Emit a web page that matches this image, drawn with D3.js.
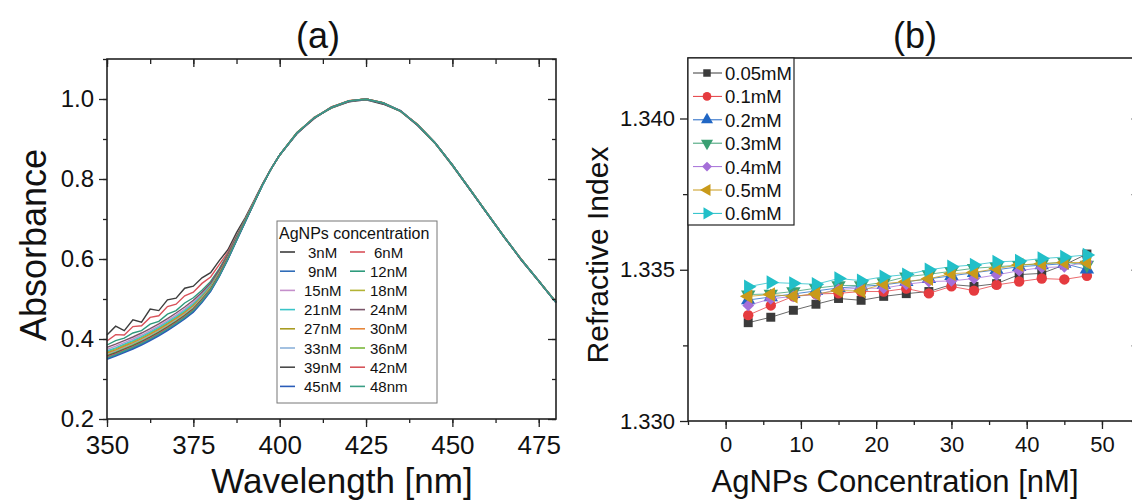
<!DOCTYPE html>
<html>
<head>
<meta charset="utf-8">
<script src="https://cdn.jsdelivr.net/npm/d3@7"></script>
<style>
body { margin: 0; background: #fff; }
text { font-family: "Liberation Sans", Arial, sans-serif; fill: #111; }
</style>
</head>
<body>
<script>
// ---- panel (a): normalised absorbance spectra, one array per AgNPs concentration
var wavelengths = [350,352.5,355,357.5,360,362.5,365,367.5,370,372.5,375,377.5,380,382.5,385,387.5,390,392.5,395,397.5,400,
    405,410,415,420,425,430,435,440,445,450,455,460,465,470,475,480];

var concLabels = ["3nM","6nM","9nM","12nM","15nM","18nM","21nM","24nM","27nM","30nM","33nM","36nM","39nM","42nM","45nM","48nm"];

var abs3  = [0.410,0.432,0.421,0.448,0.442,0.475,0.471,0.498,0.502,0.527,0.532,0.553,0.566,0.596,0.623,0.666,0.703,0.745,0.787,0.826,0.860,
    0.913,0.954,0.977,0.993,0.998,0.987,0.969,0.933,0.889,0.833,0.774,0.714,0.655,0.597,0.545,0.493];
var abs6  = [0.395,0.411,0.410,0.431,0.433,0.454,0.458,0.481,0.487,0.508,0.517,0.539,0.555,0.586,0.617,0.658,0.700,0.743,0.786,0.826,0.860,
    0.916,0.952,0.980,0.996,1.000,0.991,0.969,0.936,0.889,0.836,0.775,0.716,0.654,0.599,0.544,0.492];
var abs9  = [0.351,0.359,0.368,0.377,0.387,0.398,0.410,0.423,0.437,0.452,0.469,0.493,0.520,0.557,0.599,0.646,0.692,0.739,0.784,0.825,0.860,
    0.914,0.953,0.978,0.995,0.999,0.990,0.971,0.935,0.891,0.835,0.776,0.715,0.656,0.598,0.546,0.491];
var abs12 = [0.385,0.396,0.402,0.415,0.421,0.437,0.444,0.462,0.471,0.490,0.503,0.522,0.544,0.576,0.613,0.656,0.699,0.742,0.786,0.825,0.860,
    0.915,0.953,0.979,0.995,1.000,0.990,0.970,0.935,0.890,0.835,0.775,0.715,0.655,0.598,0.545,0.492];
var abs15 = [0.374,0.382,0.391,0.400,0.410,0.421,0.433,0.446,0.460,0.475,0.492,0.513,0.536,0.570,0.609,0.653,0.697,0.741,0.785,0.825,0.860,
    0.915,0.952,0.979,0.994,1.000,0.989,0.970,0.934,0.890,0.834,0.775,0.714,0.655,0.597,0.545,0.491];
var abs18 = [0.368,0.376,0.385,0.394,0.404,0.415,0.427,0.440,0.454,0.469,0.486,0.508,0.532,0.567,0.606,0.651,0.695,0.740,0.785,0.825,0.860,
    0.916,0.953,0.980,0.995,0.999,0.990,0.970,0.935,0.891,0.835,0.776,0.715,0.656,0.598,0.546,0.492];
var abs21 = [0.370,0.378,0.387,0.396,0.406,0.417,0.429,0.442,0.456,0.471,0.488,0.509,0.534,0.568,0.607,0.651,0.696,0.740,0.785,0.825,0.860,
    0.915,0.953,0.979,0.995,1.000,0.990,0.970,0.935,0.890,0.835,0.775,0.715,0.655,0.598,0.545,0.492];
var abs24 = [0.379,0.387,0.396,0.405,0.415,0.426,0.438,0.451,0.465,0.480,0.497,0.517,0.540,0.573,0.611,0.654,0.697,0.741,0.786,0.825,0.860,
    0.914,0.951,0.980,0.993,1.001,0.988,0.971,0.934,0.891,0.834,0.776,0.714,0.656,0.597,0.546,0.491];
var abs27 = [0.365,0.373,0.382,0.391,0.401,0.412,0.424,0.437,0.451,0.466,0.483,0.505,0.530,0.565,0.605,0.650,0.695,0.740,0.785,0.825,0.860,
    0.915,0.953,0.979,0.995,1.000,0.990,0.970,0.935,0.890,0.835,0.775,0.715,0.655,0.598,0.545,0.492];
var abs30 = [0.363,0.371,0.380,0.389,0.399,0.410,0.422,0.435,0.449,0.464,0.481,0.503,0.529,0.564,0.604,0.649,0.695,0.740,0.785,0.825,0.860,
    0.915,0.954,0.979,0.996,1.000,0.991,0.970,0.936,0.890,0.835,0.775,0.716,0.655,0.599,0.545,0.492];
var abs33 = [0.361,0.369,0.378,0.387,0.397,0.408,0.420,0.433,0.447,0.462,0.479,0.502,0.527,0.563,0.603,0.649,0.694,0.740,0.785,0.825,0.860,
    0.915,0.953,0.979,0.995,1.000,0.990,0.970,0.935,0.890,0.835,0.775,0.715,0.655,0.598,0.545,0.492];
var abs36 = [0.359,0.367,0.376,0.385,0.395,0.406,0.418,0.431,0.445,0.460,0.477,0.500,0.526,0.562,0.603,0.648,0.694,0.739,0.785,0.825,0.860,
    0.916,0.953,0.978,0.995,0.999,0.990,0.969,0.935,0.889,0.834,0.775,0.715,0.654,0.598,0.544,0.491];
var abs39 = [0.357,0.365,0.374,0.383,0.393,0.404,0.416,0.429,0.443,0.458,0.475,0.498,0.524,0.561,0.602,0.648,0.694,0.739,0.785,0.825,0.860,
    0.915,0.952,0.979,0.994,1.000,0.989,0.970,0.934,0.890,0.835,0.774,0.714,0.655,0.597,0.545,0.492];
var abs42 = [0.355,0.363,0.372,0.381,0.391,0.402,0.414,0.427,0.441,0.456,0.473,0.497,0.523,0.560,0.601,0.647,0.693,0.739,0.785,0.825,0.860,
    0.915,0.953,0.979,0.995,1.000,0.990,0.970,0.935,0.890,0.835,0.775,0.715,0.655,0.598,0.545,0.492];
var abs45 = [0.349,0.357,0.366,0.375,0.385,0.396,0.408,0.421,0.435,0.450,0.467,0.491,0.519,0.556,0.599,0.646,0.692,0.738,0.784,0.825,0.860,
    0.915,0.953,0.979,0.995,0.999,0.990,0.970,0.935,0.890,0.835,0.775,0.715,0.655,0.598,0.545,0.491];
var abs48 = [0.353,0.361,0.370,0.379,0.389,0.400,0.412,0.425,0.439,0.454,0.471,0.495,0.522,0.558,0.600,0.647,0.693,0.739,0.784,0.825,0.860,
    0.915,0.953,0.979,0.995,1.000,0.990,0.970,0.935,0.890,0.835,0.775,0.715,0.655,0.598,0.545,0.492];

var spectra = [abs3,abs6,abs9,abs12,abs15,abs18,abs21,abs24,abs27,abs30,abs33,abs36,abs39,abs42,abs45,abs48];
var spectraColors = ["#3d3d3d","#d9525a","#2f6cb8","#2e9a7c","#c48fcb","#b3b334","#3ac4c8","#7a5569",
    "#a89c22","#e6863a","#8cb2da","#7ab83c","#4a4a4a","#d6545a","#2a5cb8","#3a9e84"];

var xTicksA = [350,375,400,425,450,475];
var yTicksA = [0.2,0.4,0.6,0.8,1.0];

// ---- panel (b): refractive index vs AgNPs concentration
var concB = [3,6,9,12,15,18,21,24,27,30,33,36,39,42,45,48];
var molLabels = ["0.05mM","0.1mM","0.2mM","0.3mM","0.4mM","0.5mM","0.6mM"];
var ri005 = [1.33325,1.33343,1.33366,1.33386,1.33405,1.33399,1.33412,1.33421,1.33428,1.33451,1.33445,1.33454,1.33484,1.33488,1.33516,1.33552];
var ri01  = [1.33350,1.33382,1.33412,1.33420,1.33422,1.33428,1.33428,1.33438,1.33422,1.33445,1.33431,1.33450,1.33461,1.33471,1.33468,1.33480];
var ri02  = [1.33400,1.33410,1.33420,1.33430,1.33440,1.33445,1.33450,1.33460,1.33470,1.33480,1.33490,1.33500,1.33510,1.33515,1.33520,1.33501];
var ri03  = [1.33418,1.33420,1.33428,1.33439,1.33448,1.33448,1.33458,1.33477,1.33485,1.33495,1.33505,1.33510,1.33515,1.33520,1.33525,1.33516];
var ri04  = [1.33382,1.33404,1.33412,1.33418,1.33435,1.33439,1.33439,1.33452,1.33461,1.33463,1.33471,1.33483,1.33497,1.33507,1.33510,1.33526];
var ri05  = [1.33412,1.33418,1.33412,1.33420,1.33431,1.33430,1.33454,1.33461,1.33470,1.33487,1.33491,1.33504,1.33516,1.33520,1.33524,1.33524];
var ri06  = [1.33444,1.33458,1.33455,1.33452,1.33471,1.33464,1.33477,1.33484,1.33500,1.33510,1.33516,1.33526,1.33529,1.33537,1.33542,1.33549];
var riSeries = [ri005,ri01,ri02,ri03,ri04,ri05,ri06];
var riColors = ["#3b3b3b","#e53b3f","#2066c4","#3a9f72","#a56fd8","#c99a1a","#22bfc8"];

var xTicksB = [0,10,20,30,40,50];
var yTicksB = [1.330,1.335,1.340];

// symbol shape for each molarity: type + rotation
var shapes = [
    {type: d3.symbolSquare, rot: 0, size: 80},
    {type: d3.symbolCircle, rot: 0, size: 85},
    {type: d3.symbolTriangle, rot: 0, size: 90},
    {type: d3.symbolTriangle, rot: 180, size: 90},
    {type: d3.symbolSquare, rot: 45, size: 70},
    {type: d3.symbolTriangle, rot: -90, size: 90},
    {type: d3.symbolTriangle, rot: 90, size: 90}
];

var svg = d3.select("body").append("svg")
    .attr("width", 1132).attr("height", 502)
    .style("display", "block");
svg.append("rect").attr("width", 1132).attr("height", 502).attr("fill", "#fff");

var axisColor = "#222";

// ================= panel (a) =================
var xA = d3.scaleLinear().domain([350, 480]).range([107, 556]);
var yA = d3.scaleLinear().domain([0.2, 1.1]).range([419, 59]);

var gA = svg.append("g");

var lineA = d3.line()
    .x(function(d, i) { return xA(wavelengths[i]); })
    .y(function(d) { return yA(d); });

gA.selectAll("path.spec")
    .data(spectra)
    .enter().append("path")
    .attr("class", "spec")
    .attr("d", lineA)
    .attr("fill", "none")
    .attr("stroke", function(d, i) { return spectraColors[i]; })
    .attr("stroke-width", 1.4);

function styleAxis(g) {
    g.select(".domain").remove();
    g.selectAll(".tick line").attr("stroke", axisColor).attr("stroke-width", 1.3);
}

var minorXA = d3.range(350, 481, 12.5);
var minorYA = d3.range(0.2, 1.101, 0.1);

// bottom
gA.append("g").attr("transform", "translate(0,419)")
    .call(d3.axisBottom(xA).tickValues(minorXA).tickSize(4).tickFormat(""))
    .call(styleAxis);
gA.append("g").attr("transform", "translate(0,419)")
    .call(d3.axisBottom(xA).tickValues(xTicksA).tickSize(8).tickPadding(9).tickFormat(d3.format("d")))
    .call(styleAxis)
    .selectAll("text").attr("font-size", 26).attr("fill", "#111");
// top (inward)
gA.append("g").attr("transform", "translate(0,59)")
    .call(d3.axisTop(xA).tickValues(minorXA).tickSize(-5).tickFormat(""))
    .call(styleAxis);
gA.append("g").attr("transform", "translate(0,59)")
    .call(d3.axisTop(xA).tickValues(xTicksA).tickSize(-8).tickFormat(""))
    .call(styleAxis);
// left
gA.append("g").attr("transform", "translate(107,0)")
    .call(d3.axisLeft(yA).tickValues(minorYA).tickSize(4).tickFormat(""))
    .call(styleAxis);
gA.append("g").attr("transform", "translate(107,0)")
    .call(d3.axisLeft(yA).tickValues(yTicksA).tickSize(8).tickPadding(5).tickFormat(d3.format(".1f")))
    .call(styleAxis)
    .selectAll("text").attr("font-size", 24).attr("fill", "#111");
// right (inward)
gA.append("g").attr("transform", "translate(556,0)")
    .call(d3.axisRight(yA).tickValues(minorYA).tickSize(-4).tickFormat(""))
    .call(styleAxis);
gA.append("g").attr("transform", "translate(556,0)")
    .call(d3.axisRight(yA).tickValues(yTicksA).tickSize(-8).tickFormat(""))
    .call(styleAxis);

gA.append("rect")
    .attr("x", 107).attr("y", 59).attr("width", 556 - 107).attr("height", 419 - 59)
    .attr("fill", "none").attr("stroke", axisColor).attr("stroke-width", 1.6);

// legend (a)
var legA = gA.append("g");
legA.append("rect").attr("x", 277).attr("y", 221).attr("width", 160).attr("height", 182)
    .attr("fill", "#fff").attr("stroke", "#777").attr("stroke-width", 1);
legA.append("text").attr("x", 279).attr("y", 239).attr("font-size", 16).text("AgNPs concentration");
concLabels.forEach(function(lab, i) {
    var col = i % 2, row = Math.floor(i / 2);
    var cy = 252 + row * 19.2;
    var lx = col === 0 ? 280 : 350;
    legA.append("line").attr("x1", lx).attr("x2", lx + 15).attr("y1", cy).attr("y2", cy)
        .attr("stroke", spectraColors[i]).attr("stroke-width", 1.6);
    var tx = (col === 0 ? 304 : 370) + (lab.length === 3 ? 4 : 0);
    legA.append("text").attr("x", tx).attr("y", cy + 5.5).attr("font-size", 15).text(lab);
});

// titles (a)
svg.append("text").attr("x", 318).attr("y", 48).attr("text-anchor", "middle")
    .attr("font-size", 36).text("(a)");
svg.append("text").attr("x", 342).attr("y", 493).attr("text-anchor", "middle")
    .attr("font-size", 35).text("Wavelength [nm]");
svg.append("text").attr("transform", "translate(46,245) rotate(-90)")
    .attr("text-anchor", "middle").attr("font-size", 36).text("Absorbance");

// ================= panel (b) =================
var xB = d3.scaleLinear().domain([-5, 55]).range([688, 1139.6]);
var yB = d3.scaleLinear().domain([1.330, 1.342]).range([421, 58]);
var gB = svg.append("g");

var minorXB = d3.range(-5, 56, 5);
var minorYB = [1.3325, 1.3375];

gB.append("g").attr("transform", "translate(0,421)")
    .call(d3.axisBottom(xB).tickValues(minorXB).tickSize(4).tickFormat(""))
    .call(styleAxis);
gB.append("g").attr("transform", "translate(0,421)")
    .call(d3.axisBottom(xB).tickValues(xTicksB).tickSize(8).tickPadding(7).tickFormat(d3.format("d")))
    .call(styleAxis)
    .selectAll("text").attr("font-size", 22).attr("fill", "#111");
gB.append("g").attr("transform", "translate(688,0)")
    .call(d3.axisLeft(yB).tickValues(minorYB).tickSize(5).tickFormat(""))
    .call(styleAxis);
gB.append("g").attr("transform", "translate(688,0)")
    .call(d3.axisLeft(yB).tickValues(yTicksB).tickSize(8).tickPadding(5).tickFormat(d3.format(".3f")))
    .call(styleAxis)
    .selectAll("text").attr("font-size", 22).attr("fill", "#111");
gB.append("g").attr("transform", "translate(1139.6,0)")
    .call(d3.axisRight(yB).tickValues(yTicksB.concat(minorYB)).tickSize(-8).tickFormat(""))
    .call(styleAxis);

gB.append("rect")
    .attr("x", 688).attr("y", 58).attr("width", 1139.6 - 688).attr("height", 421 - 58)
    .attr("fill", "none").attr("stroke", axisColor).attr("stroke-width", 1.6);

var lineB = d3.line()
    .x(function(d, i) { return xB(concB[i]); })
    .y(function(d) { return yB(d); });

riSeries.forEach(function(ser, k) {
    gB.append("path").attr("d", lineB(ser))
        .attr("fill", "none").attr("stroke", riColors[k])
        .attr("stroke-width", 0.9).attr("opacity", 0.85);
    var sym = d3.symbol().type(shapes[k].type).size(shapes[k].size);
    gB.selectAll(null).data(ser).enter().append("path")
        .attr("d", sym)
        .attr("transform", function(d, i) {
            return "translate(" + xB(concB[i]) + "," + yB(d) + ") rotate(" + shapes[k].rot + ")";
        })
        .attr("fill", riColors[k]);
});

// legend (b)
var legB = gB.append("g");
legB.append("rect").attr("x", 688).attr("y", 58).attr("width", 106).attr("height", 167)
    .attr("fill", "#fff").attr("stroke", axisColor).attr("stroke-width", 1.2);
molLabels.forEach(function(lab, k) {
    var cy = 73 + k * 23.4;
    legB.append("line").attr("x1", 693).attr("x2", 722).attr("y1", cy).attr("y2", cy)
        .attr("stroke", riColors[k]).attr("stroke-width", 1);
    legB.append("path")
        .attr("d", d3.symbol().type(shapes[k].type).size(shapes[k].size * 0.7))
        .attr("transform", "translate(707," + cy + ") rotate(" + shapes[k].rot + ")")
        .attr("fill", riColors[k]);
    legB.append("text").attr("x", 725).attr("y", cy + 7).attr("font-size", 18.5).text(lab);
});

svg.append("text").attr("x", 915).attr("y", 48).attr("text-anchor", "middle")
    .attr("font-size", 36).text("(b)");
svg.append("text").attr("x", 895).attr("y", 492).attr("text-anchor", "middle")
    .attr("font-size", 31).text("AgNPs Concentration [nM]");
svg.append("text").attr("transform", "translate(608,255) rotate(-90)")
    .attr("text-anchor", "middle").attr("font-size", 30).text("Refractive Index");
</script>
</body>
</html>
